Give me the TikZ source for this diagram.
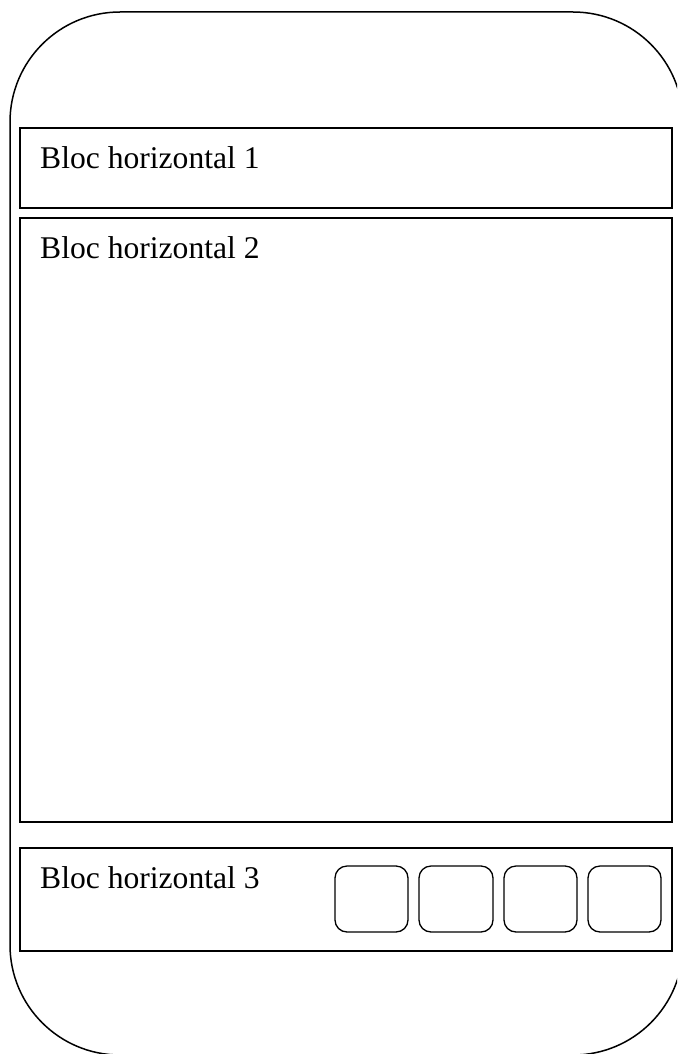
\documentclass[tikz,border=0pt]{standalone}
\usepackage{fontspec}
\setmainfont{Liberation Serif}
\begin{document}
\begin{tikzpicture}[x=1pt,y=-1pt,
  outer/.style={draw=black,line width=1.5pt,rounded corners=110pt},
  bloc/.style={draw=black,line width=1.4pt},
  btn/.style={draw=black,line width=1.3pt,rounded corners=12pt},
  lbl/.style={anchor=base west,inner sep=0pt,font=\fontsize{31.6}{38}\selectfont}]
\useasboundingbox (0,0) rectangle (677,1054);
\begin{scope}
\clip (0,0) rectangle (677,1054);
\draw[outer] (10,12) rectangle (683,1055);
\end{scope}
\draw[bloc] (20,128) rectangle (672,208);
\draw[bloc] (20,218) rectangle (672,822);
\draw[bloc] (20,848) rectangle (672,951);
\node[lbl] (t1) at (40,168) {Bloc horizontal 1};
\node[lbl] (t2) at (40,258) {Bloc horizontal 2};
\node[lbl] (t3) at (40,888) {Bloc horizontal 3};
\draw[btn] (335,866) rectangle (408,932);
\draw[btn] (419,866) rectangle (493,932);
\draw[btn] (504,866) rectangle (577,932);
\draw[btn] (588,866) rectangle (661,932);
\end{tikzpicture}
\end{document}
